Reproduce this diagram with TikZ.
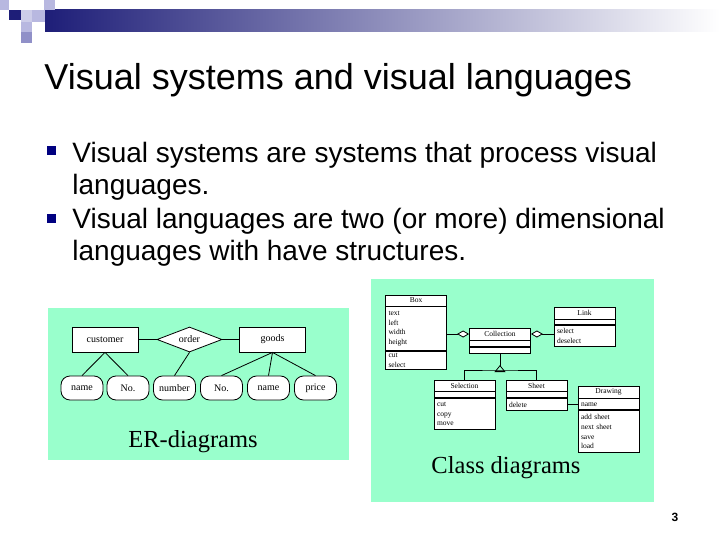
\documentclass[tikz,border=0pt]{standalone}
\usepackage{fontspec}
\setmainfont{Liberation Serif}
\newfontfamily\slidefont{Liberation Sans}
\usepackage{xcolor}
\usepackage{tikz}
\usetikzlibrary{arrows.meta, positioning, shapes.geometric}
\definecolor{slidenavy}{HTML}{1E1E78}
\definecolor{bulletnavy}{HTML}{000080}
\definecolor{squarelav}{HTML}{B8B8E0}
\definecolor{squaredark}{HTML}{9090C8}
\definecolor{panelgreen}{HTML}{99FFCC}

\begin{document}
\begin{tikzpicture}[
        x=1pt, y=-1pt,
        line width=0.8pt,
        titletext/.style={anchor=base west, inner sep=0pt, font=\slidefont\fontsize{36}{40}\selectfont},
        itemtext/.style={anchor=base west, inner sep=0pt, font=\slidefont\fontsize{28}{32}\selectfont},
        bulletbox/.style={fill=bulletnavy, minimum size=9, inner sep=0pt},
        entity/.style={draw, fill=white, minimum width=66, minimum height=25,
            inner sep=0pt, font=\fontsize{10}{12}\selectfont},
        relation/.style={diamond, aspect=2.6, draw, fill=white, minimum width=65,
            minimum height=25, inner sep=0pt, font=\fontsize{10}{12}\selectfont},
        attribute/.style={draw, fill=white, rounded corners=9, minimum width=42,
            minimum height=24, inner sep=0pt, font=\fontsize{10}{12}\selectfont},
        umlhead/.style={draw, fill=white, text width=55, inner xsep=3, inner ysep=0pt,
            align=center, font=\fontsize{7.5}{9.7}\selectfont},
        umlpart/.style={umlhead, align=left},
        caption/.style={anchor=base, inner sep=0pt, font=\fontsize{24.5}{28}\selectfont}
    ]
        \useasboundingbox[fill=white] (0,0) rectangle (720,540);

        % header bar and squares
        \shade[left color=slidenavy, right color=white] (45,10) rectangle (720,32);
        \fill[squarelav] (0,0) rectangle (9,10);
        \fill[squarelav] (44,0) rectangle (55,10);
        \fill[slidenavy] (9,10) rectangle (21,20);
        \fill[squarelav!70] (21,10) rectangle (32,22);
        \fill[squarelav] (32,10) rectangle (45,22);
        \fill[squarelav] (21,22) rectangle (32,32);
        \fill[squaredark] (21,32) rectangle (32,43);

        \node[titletext] (title) at (44,90) {Visual systems and visual languages};

        \node[bulletbox] (bullet1) at (51.5,150.5) {};
        \node[itemtext] (item1a) at (72,163) {Visual systems are systems that process visual};
        \node[itemtext] (item1b) at (72,195) {languages.};
        \node[bulletbox] (bullet2) at (51.5,218.5) {};
        \node[itemtext] (item2a) at (72,229) {Visual languages are two (or more) dimensional};
        \node[itemtext] (item2b) at (72,260) {languages with have structures.};

        % ER diagram
        \fill[panelgreen] (48,308) rectangle (349,460);
        \node[entity] (customer) at (105,339.5) {customer};
        \node[relation] (order) at (189.5,339.5) {order};
        \node[entity] (goods) at (272.5,339.5) {goods};

        \node[attribute] (custname) at (82,388) {name};
        \node[attribute] (custno) at (128,388) {No.};
        \node[attribute] (ordnumber) at (174.5,388) {number};
        \node[attribute] (goodsno) at (221.5,388) {No.};
        \node[attribute] (goodsname) at (268.5,388) {name};
        \node[attribute] (goodsprice) at (315.5,388) {price};

        \draw (customer) -- (order) -- (goods);
        \draw (custname.north) -- (customer.south) -- (custno.north);
        \draw (order.south) -- (ordnumber.north);
        \draw (goodsno.north) -- (goods.south) -- (goodsprice.north);
        \draw (goods.south) -- (goodsname.north);

        \node[caption] (erlabel) at (193,447) {ER-diagrams};

        % class diagram
        \fill[panelgreen] (371,279) rectangle (654,502);

        \node[umlhead, minimum height=11] (boxname) at (416,300.5) {Box};
        \node[umlpart, minimum height=44, below=0pt of boxname] (boxattr) {text\\left\\width\\height};
        \node[umlpart, minimum height=18, below=0pt of boxattr] (boxops) {cut\\select};

        \node[umlhead, minimum height=12] (collname) at (500,334) {Collection};
        \node[umlpart, minimum height=6, below=0pt of collname] (collattr) {};
        \node[umlpart, minimum height=6, below=0pt of collattr] (collops) {};

        \node[umlhead, minimum height=12] (linkname) at (584.5,313) {Link};
        \node[umlpart, minimum height=5, below=0pt of linkname] (linkattr) {};
        \node[umlpart, minimum height=21, below=0pt of linkattr] (linkops) {select\\deselect};

        \node[umlhead, minimum height=11] (selname) at (464.5,385.5) {Selection};
        \node[umlpart, minimum height=6, below=0pt of selname] (selattr) {};
        \node[umlpart, minimum height=31, below=0pt of selattr] (selops) {cut\\copy\\move};

        \node[umlhead, minimum height=11] (sheetname) at (536.5,385.5) {Sheet};
        \node[umlpart, minimum height=6, below=0pt of sheetname] (sheetattr) {};
        \node[umlpart, minimum height=12, below=0pt of sheetattr] (sheetops) {delete};

        \node[umlhead, minimum height=12] (drawname) at (608.5,392) {Drawing};
        \node[umlpart, minimum height=11, below=0pt of drawname] (drawattr) {name};
        \node[umlpart, minimum height=42, below=0pt of drawattr] (drawops) {add sheet\\next sheet\\save\\load};

        \coordinate (fork) at (500,370);
        \draw[{Diamond[length=12,width=7,fill=white]}-] (collname.west) -- (collname.west -| boxattr.east);
        \draw[{Diamond[length=12,width=7,fill=white]}-] (collname.east) -- (collname.east -| linkops.west);
        \draw (collops.south) -- (fork);
        \draw[-{Triangle[length=7,width=11,fill=panelgreen]}, shorten >=11] (fork) -- (collops.south);
        \draw (selname.north) |- (fork) -| (sheetname.north);
        \draw (sheetops.east) -- (sheetops.east -| drawattr.west);

        \node[caption] (classlabel) at (506,473) {Class diagrams};

        \node[font=\slidefont\bfseries\fontsize{12}{14}\selectfont] (pagenum) at (675,517) {3};
    \end{tikzpicture}
\end{document}
